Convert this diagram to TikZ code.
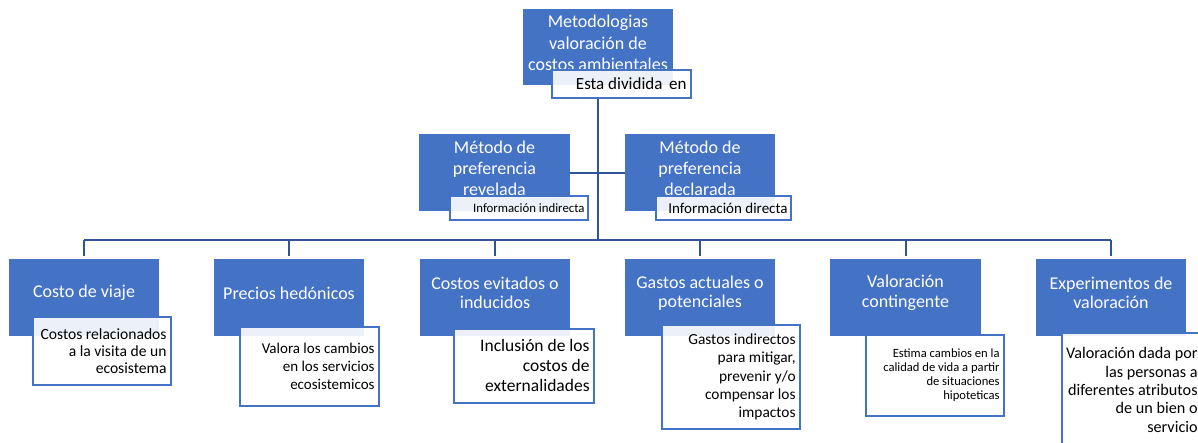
\documentclass[tikz,border=0pt]{standalone}
\usepackage{fontspec}
\setmainfont{Carlito}
\definecolor{myblue}{HTML}{4472C4}
\definecolor{linkblue}{HTML}{2F5597}
\definecolor{noteborder}{HTML}{4472C4}
\newcommand{\fs}[2]{\fontsize{#1}{#2}\selectfont}
\tikzset{
  bluebox/.style={fill=myblue, draw=none, inner sep=0pt, anchor=north west},
  bluetext/.style={text=white, align=center, inner sep=0pt},
  notebox/.style={draw=noteborder, line width=1.8pt, fill=white, fill opacity=0.9, inner sep=0pt, anchor=north west},
  notetext/.style={text=black, align=right, inner sep=0pt, anchor=east, xshift=-5pt},
  link/.style={draw=linkblue, line width=2.4pt}
}
\begin{document}
\begin{tikzpicture}[x=1pt,y=-1pt]
\useasboundingbox (0,0) rectangle (1198,442);
\clip (0,0) rectangle (1198,442);
% connectors
\coordinate (bar) at (598,240);
\coordinate (trunktop) at (598,97);
% top
\node[bluebox, minimum width=150pt, minimum height=76pt] (top) at (523,9) {};
\node[bluetext, font=\fs{18pt}{21.5pt}] (toptxt) at (598,43) {Metodologias\\valoración de\\costos ambientales};
% middle
\node[bluebox, minimum width=151pt, minimum height=77pt] (rev) at (419,134) {};
\node[bluetext, font=\fs{18pt}{21pt}] (revtxt) at (494.5,168) {Método de\\preferencia\\revelada};
\node[bluebox, minimum width=150pt, minimum height=77pt] (dec) at (625,134) {};
\node[bluetext, font=\fs{18pt}{21pt}] (dectxt) at (700,168) {Método de\\preferencia\\declarada};
% bottom blue
\node[bluebox, minimum width=150pt, minimum height=77pt] (b1) at (9,259) {};
\node[bluebox, minimum width=150pt, minimum height=77pt] (b2) at (214,259) {};
\node[bluebox, minimum width=150pt, minimum height=77pt] (b3) at (420,259) {};
\node[bluebox, minimum width=150pt, minimum height=77pt] (b4) at (625,259) {};
\node[bluebox, minimum width=151pt, minimum height=77pt] (b5) at (830,259) {};
\node[bluebox, minimum width=150pt, minimum height=77pt] (b6) at (1036,259) {};
\node[bluetext, font=\fs{18pt}{19.5pt}] (t1) at (84,293) {Costo de viaje};
\node[bluetext, font=\fs{18pt}{19.5pt}] (t2) at (289,293) {Precios hedónicos};
\node[bluetext, font=\fs{18pt}{19.5pt}] (t3) at (495,293) {Costos evitados o\\inducidos};
\node[bluetext, font=\fs{18pt}{19.5pt}] (t4) at (700,293) {Gastos actuales o\\potenciales};
\node[bluetext, font=\fs{18pt}{19.5pt}] (t5) at (905.5,293) {Valoración\\contingente};
\node[bluetext, font=\fs{18pt}{19.5pt}] (t6) at (1111,293) {Experimentos de\\valoración};
% links
\draw[link] (trunktop) -- (bar);
\draw[link] (rev.east) -- (dec.west);
\draw[link] (b1.north |- bar) -- (b6.north |- bar);
\foreach \b in {b1,b2,b3,b4,b5,b6}{
  \draw[link, shorten >=3pt] (\b.north |- bar) -- (\b.north);
}
% note boxes
\node[notebox, minimum width=139pt, minimum height=28pt] (topnote) at (551,69) {};
\node[notebox, minimum width=138pt, minimum height=24pt] (revnote) at (449,195) {};
\node[notebox, minimum width=135pt, minimum height=24pt] (decnote) at (655,195) {};
\node[notebox, minimum width=138pt, minimum height=68pt] (n1) at (32,316) {};
\node[notebox, minimum width=139pt, minimum height=79pt] (n2) at (239,326) {};
\node[notebox, minimum width=140pt, minimum height=74pt] (n3) at (453,328) {};
\node[notebox, minimum width=138pt, minimum height=104pt] (n4) at (661,324) {};
\node[notebox, minimum width=138pt, minimum height=81pt] (n5) at (865,334) {};
\node[notebox, minimum width=140pt, minimum height=114pt] (n6) at (1061,332) {};
% note texts
\node[notetext, font=\fs{17pt}{20pt}] (topnotetxt) at (topnote.east) {Esta dividida\, en};
\node[notetext, font=\fs{12.8pt}{15pt}, xshift=1pt] (revnotetxt) at (revnote.east) {Información indirecta};
\node[notetext, font=\fs{15pt}{17pt}, xshift=1pt] (decnotetxt) at (decnote.east) {Información directa};
\node[notetext, font=\fs{15.6pt}{17pt}] (n1txt) at (n1.east) {Costos relacionados\\a la visita de un\\ecosistema};
\node[notetext, font=\fs{15pt}{17.7pt}] (n2txt) at (n2.east) {Valora los cambios\\en los servicios\\ecosistemicos};
\node[notetext, font=\fs{17.5pt}{20pt}] (n3txt) at (n3.east) {Inclusión de los\\costos de\\externalidades};
\node[notetext, font=\fs{15.4pt}{18.3pt}] (n4txt) at (n4.east) {Gastos indirectos\\para mitigar,\\prevenir y/o\\compensar los\\impactos};
\node[notetext, font=\fs{12.6pt}{14pt}] (n5txt) at (n5.east) {Estima cambios en la\\calidad de vida a partir\\de situaciones\\hipoteticas};
\node[notetext, font=\fs{16.2pt}{18.3pt}] (n6txt) at (n6.east) {Valoración dada por\\las personas a\\diferentes atributos\\de un bien o\\servicio};
\end{tikzpicture}
\end{document}
